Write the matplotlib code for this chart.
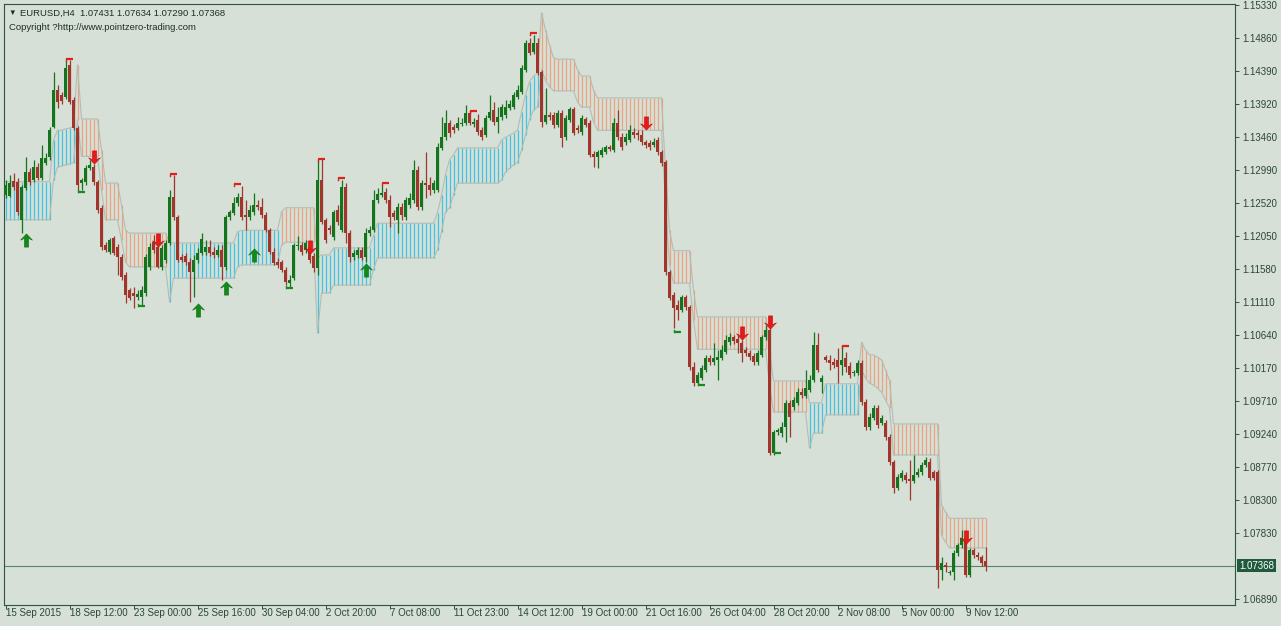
import numpy as np
import matplotlib
matplotlib.use("Agg")
import matplotlib.pyplot as plt
from matplotlib.path import Path

# ---- EURUSD H4 candles ----
opens = [
    1.1263, 1.1262, 1.1283, 1.1282, 1.1228, 1.1273, 1.1296, 1.1284, 1.1303, 1.1287,
    1.1309, 1.1317, 1.1360, 1.1412, 1.1405, 1.1402, 1.1448, 1.1398, 1.1358, 1.1280,
    1.1282, 1.1301, 1.1303, 1.1282, 1.1245, 1.1192, 1.1182, 1.1202, 1.1189, 1.1175,
    1.1150, 1.1128, 1.1124, 1.1118, 1.1118, 1.1124, 1.1161, 1.1196, 1.1189, 1.1161,
    1.1171, 1.1195, 1.1260, 1.1232, 1.1175, 1.1176, 1.1168, 1.1154, 1.1171, 1.1181,
    1.1182, 1.1189, 1.1182, 1.1178, 1.1185, 1.1161, 1.1232, 1.1238, 1.1252, 1.1260,
    1.1235, 1.1232, 1.1239, 1.1249, 1.1246, 1.1235, 1.1213, 1.1182, 1.1168, 1.1168,
    1.1157, 1.1138, 1.1145, 1.1191, 1.1192, 1.1185, 1.1189, 1.1176, 1.1159, 1.1284,
    1.1228, 1.1216, 1.1204, 1.1242, 1.1213, 1.1275, 1.1209, 1.1175, 1.1178, 1.1185,
    1.1175, 1.1209, 1.1213, 1.1256, 1.1263, 1.1267, 1.1256, 1.1238, 1.1228, 1.1246,
    1.1232, 1.1249, 1.1256, 1.1299, 1.1246, 1.1280, 1.1277, 1.1270, 1.1270, 1.1330,
    1.1345, 1.1365, 1.1360, 1.1358, 1.1364, 1.1365, 1.1380, 1.1364, 1.1370, 1.1355,
    1.1348, 1.1372, 1.1384, 1.1367, 1.1374, 1.1377, 1.1387, 1.1388, 1.1402, 1.1409,
    1.1441, 1.1479, 1.1466, 1.1479, 1.1438, 1.1367, 1.1377, 1.1377, 1.1362, 1.1380,
    1.1345, 1.1370, 1.1385, 1.1358, 1.1353, 1.1371, 1.1365, 1.1321, 1.1317, 1.1320,
    1.1324, 1.1331, 1.1327, 1.1365, 1.1345, 1.1338, 1.1341, 1.1353, 1.1351, 1.1348,
    1.1338, 1.1337, 1.1334, 1.1341, 1.1324, 1.1310, 1.1154, 1.1121, 1.1107, 1.1100,
    1.1118, 1.1104, 1.1019, 1.0996, 1.1003, 1.1015, 1.1032, 1.1026, 1.1029, 1.1032,
    1.1040, 1.1054, 1.1061, 1.1059, 1.1053, 1.1043, 1.1039, 1.1034, 1.1026, 1.1036,
    1.1061, 1.1071, 1.0897, 1.0927, 1.0925, 1.0934, 1.0968, 1.0962, 1.0968, 1.0983,
    1.0978, 1.0986, 1.1000, 1.1050, 1.0998, 1.1033, 1.1029, 1.1026, 1.1029, 1.1022,
    1.1032, 1.1020, 1.1010, 1.1010, 1.1025, 1.0969, 1.0934, 1.0946, 1.0961, 1.0939,
    1.0939, 1.0919, 1.0884, 1.0847, 1.0861, 1.0866, 1.0860, 1.0857, 1.0866, 1.0870,
    1.0880, 1.0884, 1.0870, 1.0870, 1.0731, 1.0738, 1.0726, 1.0728, 1.0755, 1.0766,
    1.0776, 1.0724, 1.0759, 1.0752, 1.0749, 1.07431,
]
highs = [
    1.1284, 1.1292, 1.1294, 1.1287, 1.1277, 1.1317, 1.1301, 1.1313, 1.1309, 1.1334,
    1.1323, 1.1360, 1.1438, 1.1419, 1.1409, 1.1455, 1.1455, 1.1402, 1.1361, 1.1287,
    1.1306, 1.1313, 1.1307, 1.1284, 1.1249, 1.1196, 1.1202, 1.1205, 1.1193, 1.1179,
    1.1154, 1.1131, 1.1132, 1.1128, 1.1134, 1.1179, 1.1195, 1.1206, 1.1199, 1.1192,
    1.1199, 1.1270, 1.1292, 1.1235, 1.1179, 1.1181, 1.1174, 1.1178, 1.1188, 1.1209,
    1.1199, 1.1199, 1.1189, 1.1192, 1.1192, 1.1235, 1.1242, 1.1260, 1.1266, 1.1276,
    1.1256, 1.1249, 1.1266, 1.1256, 1.1259, 1.1239, 1.1216, 1.1188, 1.1174, 1.1171,
    1.1161, 1.1150, 1.1195, 1.1205, 1.1196, 1.1199, 1.1195, 1.1181, 1.1313, 1.1314,
    1.1230, 1.1221, 1.1242, 1.1249, 1.1284, 1.1280, 1.1213, 1.1185, 1.1189, 1.1189,
    1.1216, 1.1219, 1.1270, 1.1273, 1.1277, 1.1273, 1.1263, 1.1242, 1.1252, 1.1252,
    1.1260, 1.1266, 1.1313, 1.1304, 1.1284, 1.1324, 1.1289, 1.1284, 1.1337, 1.1374,
    1.1384, 1.1370, 1.1364, 1.1374, 1.1372, 1.1391, 1.1384, 1.1372, 1.1378, 1.1360,
    1.1377, 1.1405, 1.1395, 1.1388, 1.1392, 1.1398, 1.1398, 1.1409, 1.1419, 1.1448,
    1.1483, 1.1486, 1.1490, 1.1486, 1.1441, 1.1415, 1.1381, 1.1381, 1.1384, 1.1384,
    1.1377, 1.1388, 1.1388, 1.1362, 1.1377, 1.1374, 1.1370, 1.1326, 1.1327, 1.1331,
    1.1334, 1.1334, 1.1372, 1.1384, 1.1351, 1.1351, 1.1362, 1.1358, 1.1355, 1.1355,
    1.1341, 1.1341, 1.1344, 1.1345, 1.1327, 1.1313, 1.1157, 1.1125, 1.1114, 1.1121,
    1.1121, 1.1107, 1.1026, 1.1012, 1.1022, 1.1036, 1.1036, 1.1053, 1.1043, 1.1050,
    1.1064, 1.1067, 1.1064, 1.1064, 1.1057, 1.1047, 1.1043, 1.1039, 1.1043, 1.1064,
    1.1078, 1.1083, 1.0929, 1.0932, 1.0941, 1.0972, 1.0972, 1.0976, 1.0989, 1.0989,
    1.1015, 1.1008, 1.1069, 1.1067, 1.1008, 1.1036, 1.1036, 1.1032, 1.1046, 1.1050,
    1.1040, 1.1026, 1.1015, 1.1029, 1.1029, 1.0973, 1.0954, 1.0965, 1.0965, 1.0951,
    1.0944, 1.0924, 1.0887, 1.0867, 1.0873, 1.0870, 1.0887, 1.0894, 1.0875, 1.0884,
    1.0891, 1.0890, 1.0873, 1.0873, 1.0749, 1.0742, 1.0731, 1.0759, 1.0769, 1.0787,
    1.0780, 1.0762, 1.0762, 1.0756, 1.0752, 1.07634,
]
lows = [
    1.1259, 1.1260, 1.1270, 1.1235, 1.1209, 1.1270, 1.1277, 1.1282, 1.1284, 1.1284,
    1.1306, 1.1313, 1.1358, 1.1387, 1.1392, 1.1399, 1.1392, 1.1355, 1.1270, 1.1270,
    1.1277, 1.1299, 1.1277, 1.1238, 1.1185, 1.1182, 1.1179, 1.1178, 1.1150, 1.1142,
    1.1110, 1.1114, 1.1103, 1.1114, 1.1107, 1.1120, 1.1157, 1.1181, 1.1159, 1.1157,
    1.1167, 1.1192, 1.1228, 1.1168, 1.1168, 1.1164, 1.1111, 1.1118, 1.1167, 1.1178,
    1.1178, 1.1176, 1.1174, 1.1175, 1.1142, 1.1157, 1.1228, 1.1235, 1.1248, 1.1228,
    1.1213, 1.1228, 1.1235, 1.1242, 1.1230, 1.1211, 1.1179, 1.1164, 1.1159, 1.1154,
    1.1135, 1.1132, 1.1142, 1.1185, 1.1178, 1.1181, 1.1167, 1.1154, 1.1150, 1.1222,
    1.1195, 1.1208, 1.1199, 1.1221, 1.1211, 1.1195, 1.1168, 1.1171, 1.1174, 1.1171,
    1.1168, 1.1205, 1.1211, 1.1252, 1.1260, 1.1252, 1.1218, 1.1228, 1.1209, 1.1228,
    1.1228, 1.1245, 1.1252, 1.1242, 1.1242, 1.1259, 1.1263, 1.1266, 1.1267, 1.1327,
    1.1341, 1.1345, 1.1351, 1.1355, 1.1361, 1.1362, 1.1362, 1.1360, 1.1348, 1.1341,
    1.1345, 1.1370, 1.1362, 1.1351, 1.1370, 1.1372, 1.1384, 1.1385, 1.1399, 1.1407,
    1.1438, 1.1462, 1.1463, 1.1434, 1.1360, 1.1364, 1.1370, 1.1358, 1.1360, 1.1331,
    1.1341, 1.1367, 1.1348, 1.1351, 1.1348, 1.1360, 1.1317, 1.1303, 1.1301, 1.1317,
    1.1321, 1.1326, 1.1324, 1.1341, 1.1327, 1.1334, 1.1338, 1.1344, 1.1341, 1.1334,
    1.1330, 1.1327, 1.1331, 1.1320, 1.1304, 1.1150, 1.1114, 1.1074, 1.1086, 1.1097,
    1.1100, 1.1015, 1.0992, 1.0993, 1.1000, 1.1012, 1.1022, 1.1022, 1.1000, 1.1029,
    1.1037, 1.1050, 1.1051, 1.1039, 1.1026, 1.1034, 1.1029, 1.1022, 1.1022, 1.1033,
    1.1057, 1.0894, 1.0894, 1.0922, 1.0919, 1.0912, 1.0919, 1.0958, 1.0965, 1.0975,
    1.0975, 1.0983, 1.0998, 1.1012, 1.0982, 1.1026, 1.1015, 1.1017, 1.0996, 1.1008,
    1.1012, 1.1003, 1.1006, 1.1008, 1.0965, 1.0929, 1.0929, 1.0944, 1.0932, 1.0937,
    1.0915, 1.0880, 1.0840, 1.0844, 1.0857, 1.0854, 1.0830, 1.0854, 1.0863, 1.0866,
    1.0877, 1.0858, 1.0858, 1.0705, 1.0716, 1.0728, 1.0724, 1.0716, 1.0751, 1.0762,
    1.0721, 1.0721, 1.0748, 1.0745, 1.0736, 1.07290,
]
closes = [
    1.1277, 1.1280, 1.1275, 1.1239, 1.1275, 1.1296, 1.1282, 1.1303, 1.1287, 1.1316,
    1.1316, 1.1355, 1.1412, 1.1395, 1.1397, 1.1443, 1.1395, 1.1358, 1.1277, 1.1284,
    1.1301, 1.1306, 1.1282, 1.1242, 1.1189, 1.1185, 1.1199, 1.1181, 1.1175, 1.1147,
    1.1121, 1.1117, 1.1120, 1.1122, 1.1128, 1.1175, 1.1189, 1.1185, 1.1161, 1.1188,
    1.1195, 1.1260, 1.1232, 1.1171, 1.1171, 1.1168, 1.1154, 1.1171, 1.1181, 1.1201,
    1.1189, 1.1181, 1.1178, 1.1185, 1.1161, 1.1232, 1.1239, 1.1252, 1.1260, 1.1232,
    1.1232, 1.1242, 1.1249, 1.1246, 1.1235, 1.1213, 1.1182, 1.1167, 1.1164, 1.1157,
    1.1140, 1.1142, 1.1192, 1.1192, 1.1182, 1.1195, 1.1171, 1.1159, 1.1284, 1.1225,
    1.1199, 1.1213, 1.1239, 1.1225, 1.1275, 1.1209, 1.1175, 1.1181, 1.1185, 1.1174,
    1.1209, 1.1213, 1.1256, 1.1265, 1.1266, 1.1256, 1.1232, 1.1232, 1.1246, 1.1235,
    1.1256, 1.1259, 1.1299, 1.1246, 1.1280, 1.1277, 1.1270, 1.1280, 1.1331, 1.1345,
    1.1365, 1.1351, 1.1355, 1.1365, 1.1365, 1.1380, 1.1365, 1.1367, 1.1353, 1.1345,
    1.1372, 1.1381, 1.1367, 1.1374, 1.1388, 1.1388, 1.1392, 1.1405, 1.1412, 1.1443,
    1.1479, 1.1465, 1.1479, 1.1436, 1.1367, 1.1377, 1.1374, 1.1362, 1.1380, 1.1344,
    1.1372, 1.1385, 1.1351, 1.1355, 1.1372, 1.1362, 1.1320, 1.1317, 1.1324, 1.1327,
    1.1331, 1.1328, 1.1365, 1.1345, 1.1331, 1.1345, 1.1355, 1.1348, 1.1348, 1.1338,
    1.1334, 1.1331, 1.1338, 1.1324, 1.1309, 1.1154, 1.1117, 1.1103, 1.1100, 1.1118,
    1.1104, 1.1019, 1.0996, 1.1008, 1.1017, 1.1032, 1.1026, 1.1032, 1.1033, 1.1043,
    1.1057, 1.1061, 1.1056, 1.1053, 1.1039, 1.1039, 1.1033, 1.1026, 1.1039, 1.1061,
    1.1071, 1.0897, 1.0927, 1.0929, 1.0934, 1.0968, 1.0948, 1.0972, 1.0983, 1.0979,
    1.0989, 1.1000, 1.1050, 1.1015, 1.1003, 1.1029, 1.1025, 1.1022, 1.1019, 1.1029,
    1.1019, 1.1008, 1.1012, 1.1025, 1.0969, 1.0934, 1.0948, 1.0961, 1.0937, 1.0946,
    1.0919, 1.0884, 1.0847, 1.0863, 1.0868, 1.0858, 1.0857, 1.0866, 1.0870, 1.0880,
    1.0887, 1.0861, 1.0861, 1.0731, 1.0741, 1.0735, 1.0728, 1.0755, 1.0766, 1.0776,
    1.0724, 1.0759, 1.0752, 1.0749, 1.0741, 1.07368,
]

# ---- step channel indicator ----
band_upper = ([1.1282] * 12 + [1.1341] + [1.1355, 1.1355, 1.1357, 1.1358, 1.1360] + [1.1448]
              + [1.1371] * 5 + [1.1327] + [1.1280] * 4 + [1.1249, 1.1213] + [1.1209] * 10
              + [1.1195] * 17 + [1.1211] + [1.1213] * 10 + [1.1239] + [1.1245] * 8
              + [1.1174] + [1.1178] * 3 + [1.1188] * 10 + [1.1206] + [1.1223] * 15
              + [1.1238, 1.1263, 1.1292, 1.1313, 1.1320] + [1.1330] * 11
              + [1.1341, 1.1345, 1.1348, 1.1351, 1.1355, 1.1381, 1.1405, 1.1424, 1.1432, 1.1436]
              + [1.1522, 1.1497, 1.1476, 1.1458] + [1.1456] * 5 + [1.1441] + [1.1432] * 3
              + [1.1412] + [1.1401] * 17 + [1.1299, 1.1213] + [1.1184] * 5 + [1.1128]
              + [1.1090] * 18 + [1.1043] + [1.0999] * 9 + [1.0968] * 4 + [1.0995] * 9
              + [1.1054, 1.1043, 1.1036, 1.1036, 1.1033, 1.1029, 1.1015, 1.1000]
              + [1.0938] * 12 + [1.0823, 1.0813] + [1.0804] * 10)
band_lower = ([1.1228] * 12 + [1.1284] + [1.1303, 1.1304, 1.1306, 1.1307, 1.1309] + [1.1370]
              + [1.1318] * 5 + [1.1270] + [1.1228] * 4 + [1.1199, 1.1168] + [1.1161] * 10
              + [1.1111] + [1.1145] * 16 + [1.1161] + [1.1164] * 10 + [1.1192] + [1.1196] * 8
              + [1.1067] + [1.1124] * 3 + [1.1135] * 10 + [1.1157] + [1.1174] * 15
              + [1.1185, 1.1211, 1.1239, 1.1245, 1.1263] + [1.1280] * 11
              + [1.1284, 1.1296, 1.1301, 1.1306, 1.1309, 1.1327, 1.1348, 1.1370, 1.1384, 1.1388]
              + [1.1441, 1.1426, 1.1417, 1.1411] + [1.1411] * 5 + [1.1395] + [1.1388] * 3
              + [1.1367] + [1.1355] * 17 + [1.1249, 1.1164] + [1.1138] * 5 + [1.1086]
              + [1.1044] * 18 + [1.0993] + [1.0955] * 9 + [1.0904] + [1.0925] * 3
              + [1.0951] * 9
              + [1.1015, 1.1003, 1.0996, 1.0993, 1.0989, 1.0983, 1.0972, 1.0961]
              + [1.0894] * 12 + [1.0780, 1.0770] + [1.0762] * 10)
band_trend = (["up"] * 18 + ["dn"] * 23 + ["up"] * 28 + ["dn"] * 9 + ["up"] * 56
              + ["dn"] * 67 + ["up"] * 13 + ["dn"] * 32)

# signal arrows (bar index, price)
buy_arrow_bar = [5, 48, 55, 62, 90]
buy_arrow_price = [1.1199, 1.1100, 1.1131, 1.1178, 1.1157]
sell_arrow_bar = [22, 38, 76, 160, 184, 191, 240]
sell_arrow_price = [1.1317, 1.1199, 1.1189, 1.1365, 1.1067, 1.1083, 1.0777]

# swing markers
top_mark_bar = [16, 42, 58, 79, 84, 95, 117, 132, 210]
top_mark_price = [1.1456, 1.1293, 1.1279, 1.1314, 1.1287, 1.1280, 1.1382, 1.1493, 1.1049]
bottom_mark_bar = [19, 34, 71, 168, 174, 193]
bottom_mark_price = [1.1267, 1.1105, 1.1131, 1.1069, 1.0993, 1.0897]

price_ticks = [1.15330, 1.14860, 1.14390, 1.13920, 1.13460, 1.12990, 1.12520, 1.12050,
               1.11580, 1.11110, 1.10640, 1.10170, 1.09710, 1.09240, 1.08770, 1.08300,
               1.07830, 1.06890]
time_labels = ["15 Sep 2015", "18 Sep 12:00", "23 Sep 00:00", "25 Sep 16:00",
               "30 Sep 04:00", "2 Oct 20:00", "7 Oct 08:00", "11 Oct 23:00",
               "14 Oct 12:00", "19 Oct 00:00", "21 Oct 16:00", "26 Oct 04:00",
               "28 Oct 20:00", "2 Nov 08:00", "5 Nov 00:00", "9 Nov 12:00"]
bars_per_label = 16
last_price = 1.07368

bg = "#D6E0D6"
frame = "#2E5340"
bull = "#14741C"
bear = "#A2352B"
txt = "#2C4636"

plt.rcParams["font.family"] = ["Liberation Sans", "DejaVu Sans"]

W, H = 1281, 626
fig = plt.figure(figsize=(W / 100, H / 100), dpi=100, facecolor=bg)
ax = fig.add_axes([4 / W, 21 / H, 1231 / W, 601 / H])
ax.set_facecolor(bg)

n = len(closes)
x = np.arange(n)
o = np.array(opens)
h = np.array(highs)
l = np.array(lows)
c = np.array(closes)
up_b = np.array(band_upper)
lo_b = np.array(band_lower)

# channel hatch
hatch_col = ["#43C2E4" if t == "up" else "#E9A283" for t in band_trend]
ax.vlines(x, lo_b, up_b, colors=hatch_col, linewidth=0.9, zorder=1)
ax.plot(x, up_b, color="#B3BDB3", lw=0.8, zorder=1.5)
ax.plot(x, lo_b, color="#B3BDB3", lw=0.8, zorder=1.5)

# candles
col = np.where(c >= o, bull, bear)
ax.vlines(x, l, h, colors=col, linewidth=0.9, zorder=2)
body = np.maximum(np.abs(c - o), 0.00016)
ax.bar(x, body, bottom=np.minimum(o, c), width=0.72, color=col, linewidth=0, zorder=3)

# current price line
ax.axhline(last_price, color="#5D826C", lw=0.8, zorder=1.2)

# swing markers
for b, p in zip(top_mark_bar, top_mark_price):
    ax.plot([b - 0.9, b + 0.9], [p, p], color="#E0201C", lw=1.6, solid_capstyle="butt", zorder=4)
    ax.plot([b - 0.9, b - 0.9], [p, p - 0.0003], color="#E0201C", lw=1.0, zorder=4)
for b, p in zip(bottom_mark_bar, bottom_mark_price):
    ax.plot([b - 0.9, b + 0.9], [p, p], color="#178A1B", lw=1.6, solid_capstyle="butt", zorder=4)
    ax.plot([b - 0.9, b - 0.9], [p, p + 0.0003], color="#178A1B", lw=1.0, zorder=4)

# arrows (thick chevron-headed arrows like the terminal's signal glyphs)
arrow_up = Path([(0, 1), (0.9, 0.05), (0.32, 0.32), (0.32, -1), (-0.32, -1),
                 (-0.32, 0.32), (-0.9, 0.05), (0, 1)], closed=True)
arrow_dn = Path([(vx, -vy) for vx, vy in arrow_up.vertices], closed=True)
ax.plot(buy_arrow_bar, buy_arrow_price, linestyle="none", marker=arrow_up,
        markersize=9.5, color="#128A1A", markeredgecolor="#0E6E14", markeredgewidth=0.4, zorder=5)
ax.plot(sell_arrow_bar, sell_arrow_price, linestyle="none", marker=arrow_dn,
        markersize=9.5, color="#E8191A", markeredgecolor="#C01010", markeredgewidth=0.4, zorder=5)

# axes
ax.set_xlim(-0.375, 307.375)
ax.set_ylim(1.06809, 1.15343)
for s in ax.spines.values():
    s.set_color(frame)
    s.set_linewidth(0.8)

ax.yaxis.tick_right()
ax.set_yticks(price_ticks)
ax.set_yticklabels([f"{p:.5f}" for p in price_ticks])
ax.tick_params(axis="y", direction="out", length=3, width=0.7, pad=2,
               labelsize=7, colors=frame, labelcolor=txt)

tick_pos = [k * bars_per_label for k in range(len(time_labels))]
ax.set_xticks(tick_pos)
ax.set_xticklabels([])
ax.tick_params(axis="x", direction="out", length=3, width=0.7, colors=frame)
for pos, lab in zip(tick_pos, time_labels):
    ax.annotate(lab, xy=(pos, 0), xycoords=("data", "axes fraction"),
                xytext=(0, -3), textcoords="offset pixels",
                ha="left", va="top", fontsize=7, color=txt)

# current price box
ax.annotate(f"{last_price:.5f}", xy=(1, last_price), xycoords=("axes fraction", "data"),
            xytext=(4, 0), textcoords="offset pixels", ha="left", va="center",
            fontsize=7, color="white",
            bbox=dict(boxstyle="square,pad=0.18", fc="#1F5A3D", ec="none"))

# header text
fig.text(8 / W, 1 - 13 / H, "\u25bc", fontsize=5.5, color="#1E2E24", va="center")
fig.text(20 / W, 1 - 13 / H, "EURUSD,H4  1.07431 1.07634 1.07290 1.07368",
         fontsize=6.8, color="#1E2E24", va="center")
fig.text(9 / W, 1 - 27 / H, "Copyright ?http://www.pointzero-trading.com",
         fontsize=6.8, color="#1E2E24", va="center")

fig.savefig("out.png", dpi=100, facecolor=bg)
